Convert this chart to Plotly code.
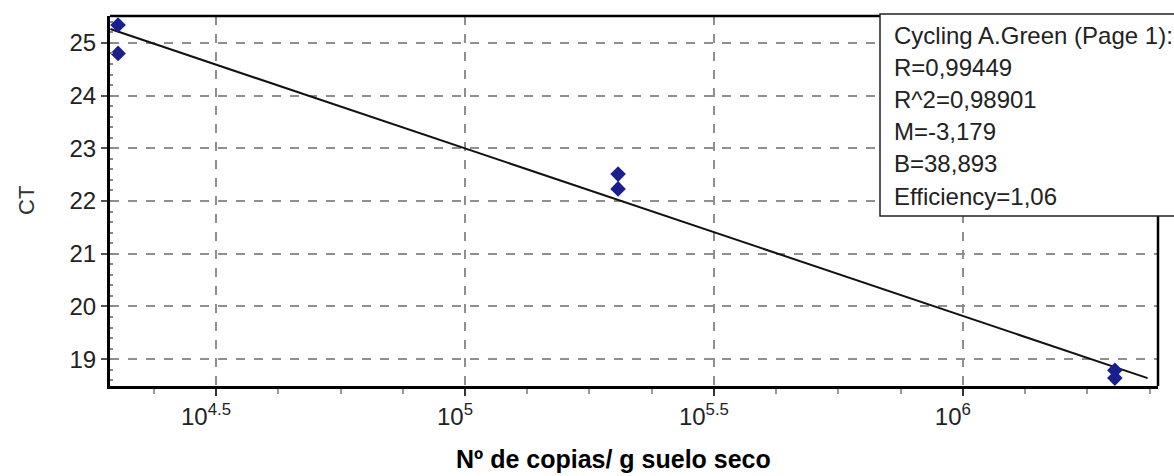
import math
import plotly.graph_objects as go

# ---- data ----
copies = [2.01e4, 2.01e4, 2.03e5, 2.03e5, 2.02e6, 2.02e6]
ct = [25.34, 24.80, 22.51, 22.23, 18.79, 18.64]
slope = -3.179
intercept = 38.893
fit_x = [1.94e4, 2.35e6]
y_ticks = [19, 20, 21, 22, 23, 24, 25]
tick_vals = [10 ** 4.5, 1e5, 10 ** 5.5, 1e6]
tick_text = ["10<sup>4.5</sup>", "10<sup>5</sup>", "10<sup>5.5</sup>", "10<sup>6</sup>"]
minor_vals = [10 ** (4.25 + 0.125 * k) for k in range(18)]
stats_lines = ["Cycling A.Green (Page 1):", "R=0,99449", "R^2=0,98901",
               "M=-3,179", "B=38,893", "Efficiency=1,06"]

fit_y = [slope * math.log10(v) + intercept for v in fit_x]

FONT = "Liberation Sans, Arial, sans-serif"
L, R, T, B = 110, 16, 16, 90
W, H = 1174, 476
PW, PH = W - L - R, H - T - B


def px(xp):
    return (xp - L) / PW


def py(yp):
    return (H - B - yp) / PH


fig = go.Figure()
fig.add_trace(go.Scatter(x=fit_x, y=fit_y, mode="lines",
                         line=dict(color="#111111", width=2), showlegend=False,
                         hoverinfo="skip"))
fig.add_trace(go.Scatter(x=copies, y=ct, mode="markers",
                         marker=dict(symbol="diamond", size=12, color="#1a1f8f",
                                     line=dict(width=0)), showlegend=False))

fig.update_layout(
    width=W, height=H,
    margin=dict(l=L, r=R, t=T, b=B),
    paper_bgcolor="white", plot_bgcolor="white",
    font=dict(family=FONT, color="#222222"),
    showlegend=False,
)
fig.update_xaxes(
    type="log", range=[4.287, 6.392],
    tickmode="array", tickvals=tick_vals, ticktext=tick_text,
    tickfont=dict(size=24, color="#222222"),
    ticklabelshift=-10,
    ticks="outside", ticklen=7, tickwidth=1.5, tickcolor="#333333",
    showgrid=True, gridcolor="#8f8f8f", griddash="dash", gridwidth=1.5,
    showline=True, linecolor="#000000", linewidth=3, mirror=False,
    zeroline=False,
    minor=dict(tickmode="array", tickvals=minor_vals, ticks="outside",
               ticklen=5, tickcolor="#999999", showgrid=False),
)
fig.update_yaxes(
    range=[18.49, 25.51],
    tickmode="array", tickvals=y_ticks,
    tickfont=dict(size=24, color="#222222"),
    ticks="outside", ticklen=6, tickwidth=1.5, tickcolor="#555555",
    showgrid=True, gridcolor="#8f8f8f", griddash="dash", gridwidth=1.5,
    showline=True, linecolor="#000000", linewidth=3, mirror=False,
    zeroline=False,
    minor=dict(dtick=0.2, ticks="inside", ticklen=3, tickcolor="#888888",
               showgrid=False),
)

# y-axis title
fig.add_annotation(xref="paper", yref="paper", x=px(26), y=py(201),
                   xanchor="center", yanchor="middle", showarrow=False,
                   textangle=-90, text="CT",
                   font=dict(size=22, color="#333333", family=FONT))

# top and right frame lines
fig.add_shape(type="line", xref="paper", yref="paper", x0=0, x1=1, y0=1, y1=1,
              line=dict(color="#000000", width=2.5))
fig.add_shape(type="line", xref="paper", yref="paper", x0=1, x1=1, y0=0, y1=1,
              line=dict(color="#000000", width=2.5))

# stats box
fig.add_shape(type="rect", xref="paper", yref="paper",
              x0=px(880), x1=px(1180), y0=py(216), y1=py(14),
              fillcolor="white", line=dict(color="#222222", width=1.5), layer="above")
for i, s in enumerate(stats_lines):
    fig.add_annotation(xref="paper", yref="paper", x=px(892), y=py(35 + 32.2 * i),
                       xanchor="left", yanchor="middle", align="left", showarrow=False,
                       text=s, font=dict(size=24, color="#222222", family=FONT))

# x-axis title
fig.add_annotation(xref="paper", yref="paper", x=px(613), y=py(459),
                   xanchor="center", yanchor="middle", showarrow=False,
                   text="<b>Nº de copias/ g suelo seco</b>",
                   font=dict(size=25, color="#000000", family=FONT))

fig.write_html("out.html")
